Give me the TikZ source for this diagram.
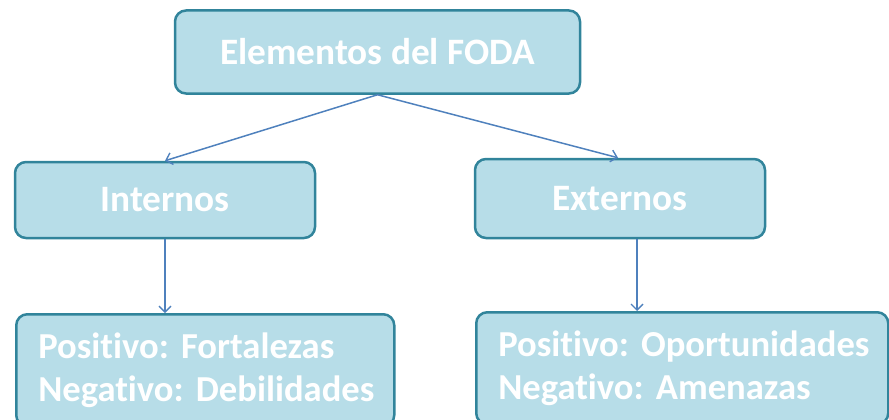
\documentclass[tikz,border=0pt]{standalone}
\usepackage{fontspec}
\setmainfont{Carlito}[Ligatures=NoCommon]
\usetikzlibrary{arrows.meta}
\definecolor{boxfill}{RGB}{183,221,232}
\definecolor{boxline}{RGB}{49,132,155}
\definecolor{arrowc}{RGB}{79,129,189}
\tikzset{
  box/.style={draw=boxline, fill=boxfill, line width=2.5pt, rounded corners=11pt,
    text=white, font=\fontsize{37.3}{42}\selectfont\bfseries\frenchspacing, inner sep=0pt},
  wide/.style={box, anchor=north west, align=left, inner xsep=22pt, minimum height=112pt,
    font=\fontsize{36.6}{42.5}\selectfont\bfseries\frenchspacing},
  arr/.style={draw=arrowc, line width=1.5pt, -{Straight Barb[length=6pt,width=12pt,line width=1.4pt]}}
}
\begin{document}
\begin{tikzpicture}[x=1pt,y=-1pt]
\useasboundingbox (0,0) rectangle (889,420);
\clip (0,0) rectangle (889,420);
\node[box, minimum width=405pt, minimum height=83pt] (top) at (377.5,52) {Elementos del FODA};
\node[box, minimum width=300pt, minimum height=76pt] (int) at (165,200) {Internos};
\node[box, minimum width=290pt, minimum height=79pt] (ext) at (620,198.5) {Externos};
\node[wide, text width=334pt] (bl) at (15,313) {\mbox{Positivo: Fortalezas}\\\mbox{Negativo: Debilidades}};
\node[wide, text width=368pt] (br) at (475,311) {\mbox{Positivo: Oportunidades}\\\mbox{Negativo: Amenazas}};
\coordinate (t0) at (top.south);
\draw[arr] (t0) -- (int.north);
\draw[arr] (t0) -- ([xshift=-2pt]ext.north);
\draw[arr] (int.south) -- (int.south |- bl.north);
\coordinate (e1) at ([xshift=17pt]ext.south);
\draw[arr] (e1) -- (e1 |- br.north);
\end{tikzpicture}
\end{document}
